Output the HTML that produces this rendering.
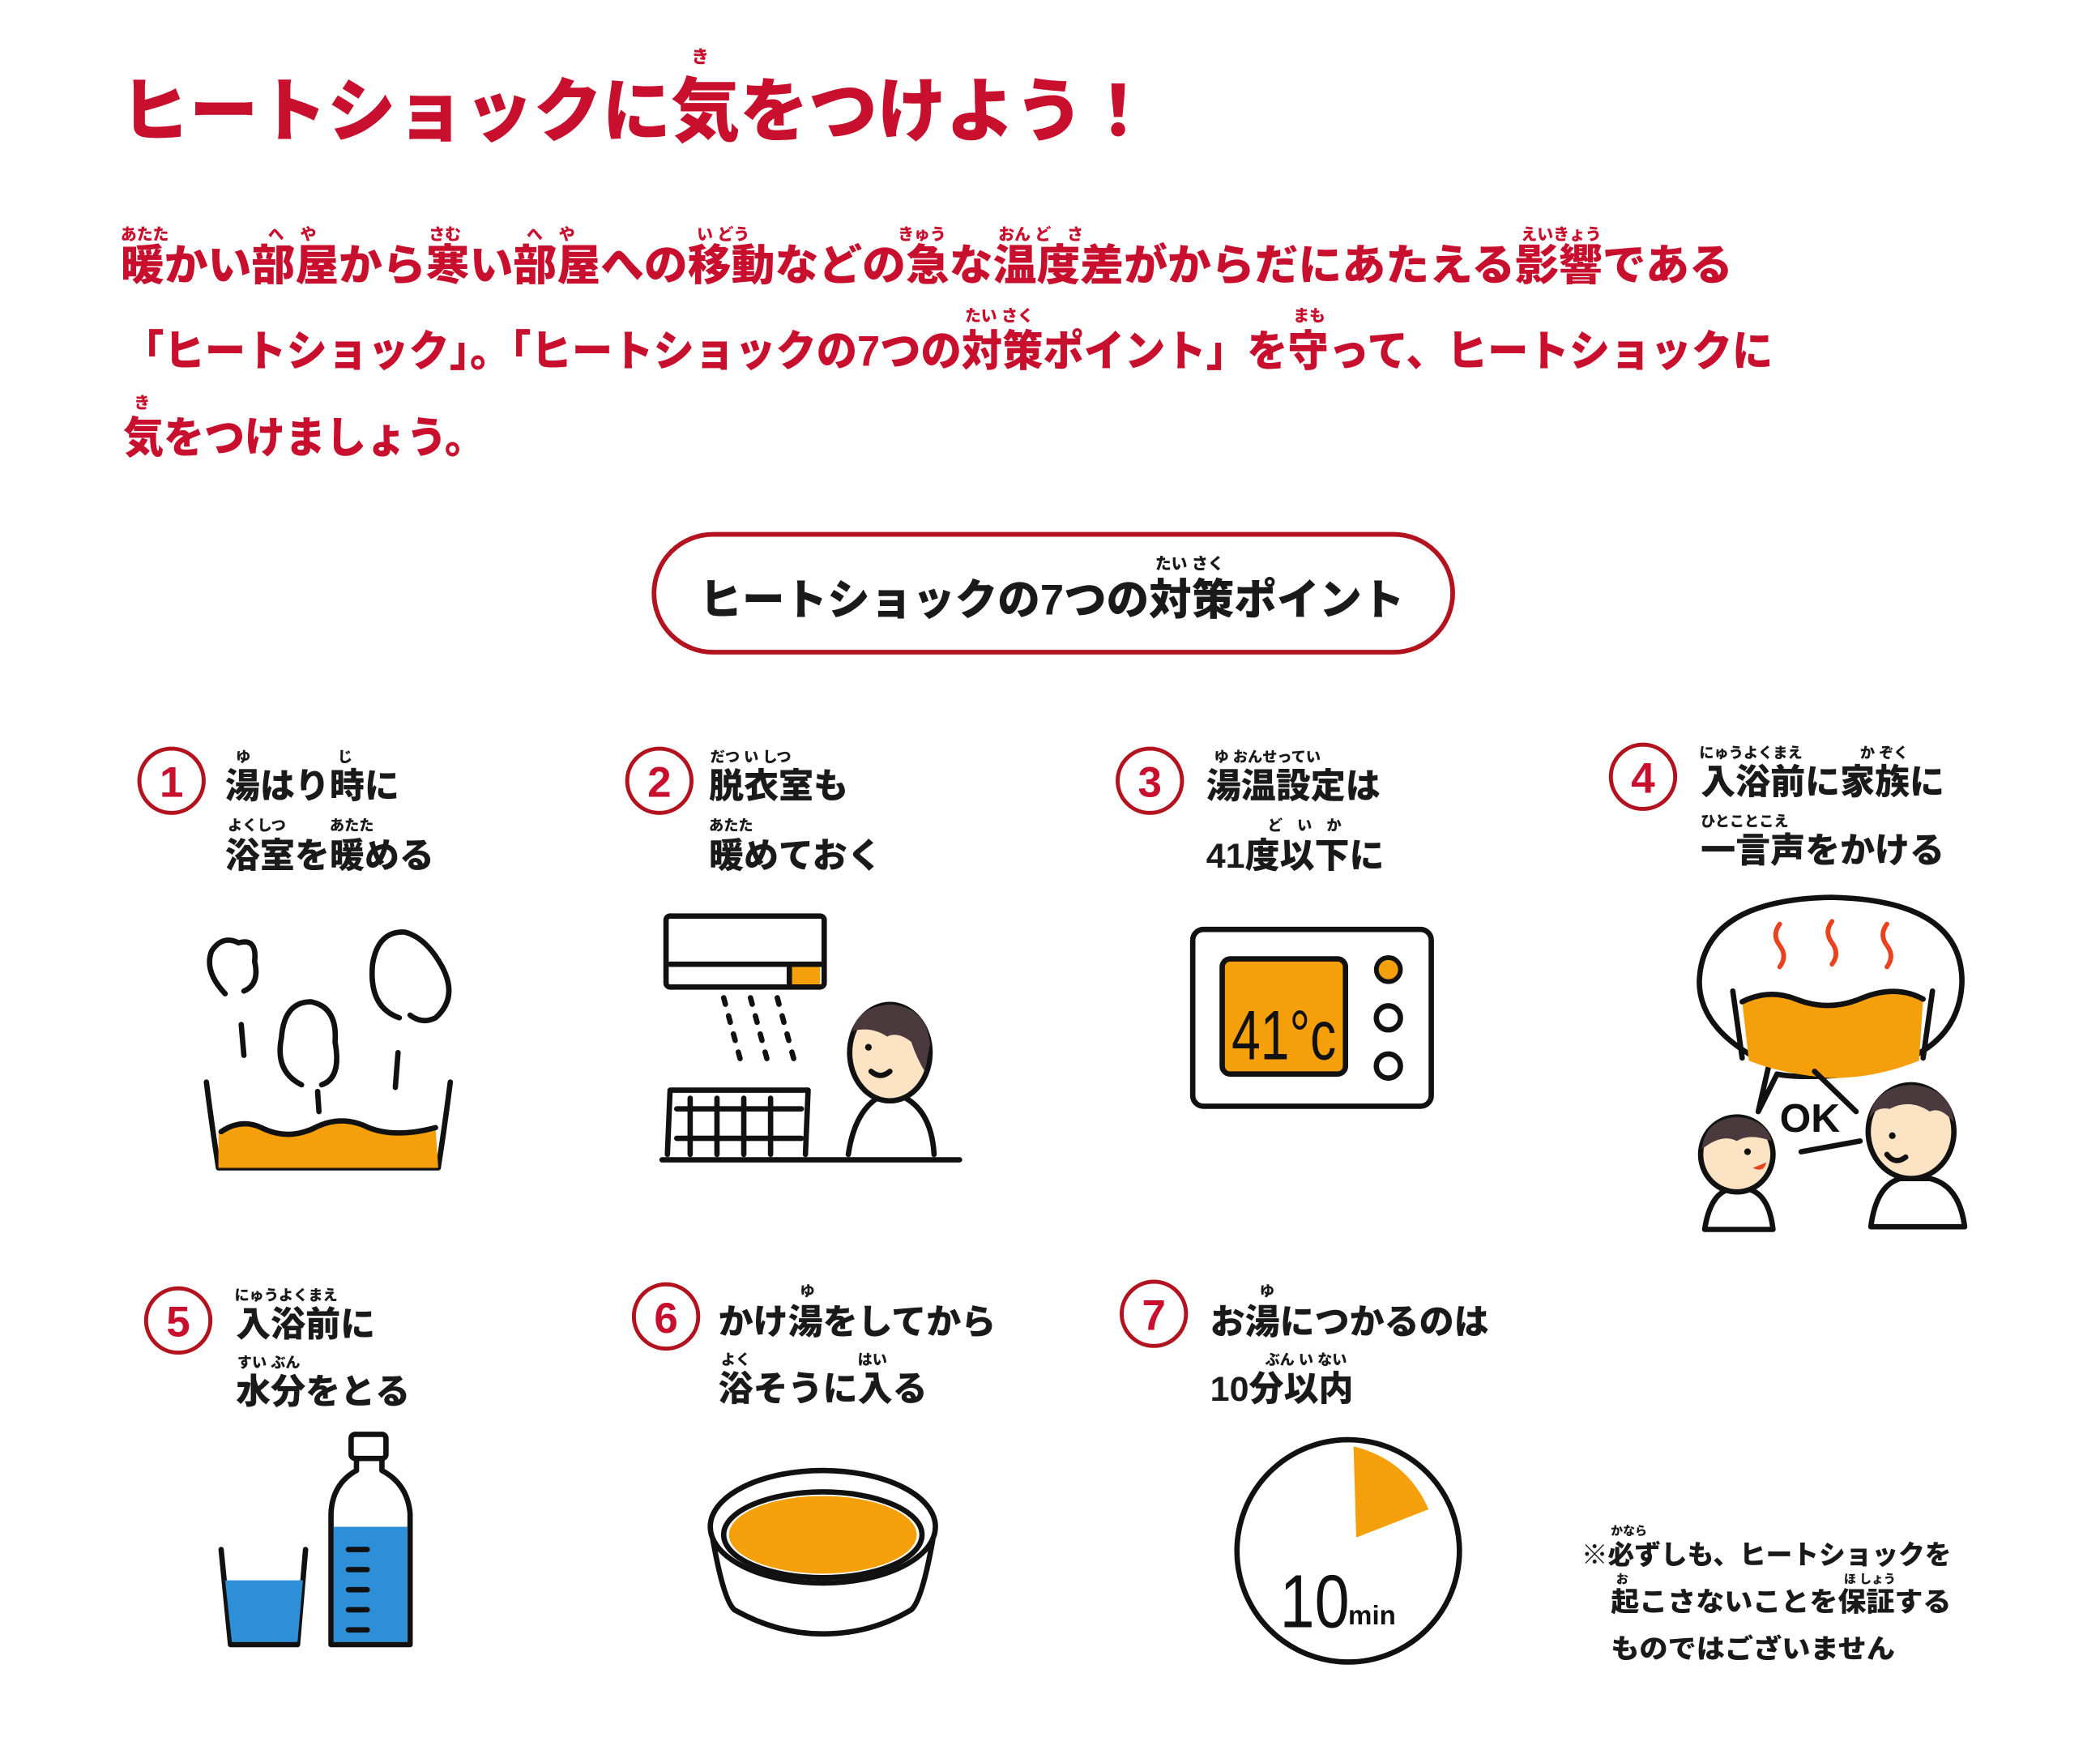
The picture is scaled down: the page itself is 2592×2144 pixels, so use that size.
<!DOCTYPE html>
<html><head><meta charset="utf-8"><style>
html,body{margin:0;padding:0;background:#fff;}
svg{display:block;}
text{font-family:"Liberation Sans","Noto Sans CJK JP",sans-serif;font-weight:900;}
.r{fill:#c8102e;}
.k{fill:#1a1a1a;}
.ln{fill:none;stroke:#111;stroke-width:4;stroke-linecap:round;stroke-linejoin:round;}
</style></head><body>
<svg width="2592" height="2144" viewBox="0 0 1567 1297" preserveAspectRatio="none" xmlns="http://www.w3.org/2000/svg">
<rect width="1567" height="1297" fill="#fff"/>
<text class="r" x="516" y="47" font-size="13">き</text>
<text class="r" x="90" y="101" font-size="52" textLength="770" lengthAdjust="spacingAndGlyphs">ヒートショックに気をつけよう！</text>
<g class="r" font-size="12">
<text x="90" y="179">あたた</text><text x="200" y="179">へ　や</text><text x="320" y="179">さむ</text><text x="393" y="179">へ　や</text>
<text x="520" y="179">い どう</text><text x="670" y="179">きゅう</text><text x="745" y="179">おん ど　さ</text><text x="1135" y="179">えいきょう</text>
<text x="720" y="240">たい さく</text><text x="965" y="240">まも</text><text x="100" y="305">き</text>
</g>
<text class="r" x="90" y="209" font-size="32" textLength="1203" lengthAdjust="spacingAndGlyphs">暖かい部屋から寒い部屋への移動などの急な温度差がからだにあたえる影響である</text>
<text class="r" x="92" y="273" font-size="32" textLength="1231" lengthAdjust="spacingAndGlyphs">「ヒートショック」。「ヒートショックの7つの対策ポイント」を守って、ヒートショックに</text>
<text class="r" x="92" y="338" font-size="32" textLength="270" lengthAdjust="spacingAndGlyphs">気をつけましょう。</text>
<rect x="488" y="399" width="596" height="88" rx="44" fill="#fff" stroke="#b3121f" stroke-width="3.5"/>
<text class="k" x="862" y="425" font-size="12">たい さく</text>
<text class="k" x="522" y="459" font-size="32" textLength="526" lengthAdjust="spacingAndGlyphs">ヒートショックの7つの対策ポイント</text>

<g fill="none" stroke="#b3121f" stroke-width="3">
<circle cx="128" cy="583" r="24"/><circle cx="492" cy="583" r="24"/><circle cx="858" cy="583" r="24"/><circle cx="1226" cy="580" r="24"/>
<circle cx="133" cy="986" r="24"/><circle cx="497" cy="983" r="24"/><circle cx="861" cy="981" r="24"/>
</g>
<g class="r" font-size="32" text-anchor="middle" style="font-weight:400">
<text x="128" y="595">1</text><text x="492" y="595">2</text><text x="858" y="595">3</text><text x="1226" y="592">4</text>
<text x="133" y="998">5</text><text x="497" y="995">6</text><text x="861" y="993">7</text>
</g>
<g class="k" font-size="26">
<text x="168" y="596">湯はり時に</text><text x="168" y="648">浴室を暖める</text>
<text x="529" y="596">脱衣室も</text><text x="529" y="648">暖めておく</text>
<text x="900" y="596">湯温設定は</text><text x="900" y="648">41度以下に</text>
<text x="1269" y="593">入浴前に家族に</text><text x="1269" y="644">一言声をかける</text>
<text x="176" y="998">入浴前に</text><text x="176" y="1048">水分をとる</text>
<text x="536" y="996">かけ湯をしてから</text><text x="536" y="1046">浴そうに入る</text>
<text x="903" y="996">お湯につかるのは</text><text x="903" y="1046">10分以内</text>
</g>
<g class="k" font-size="11">
<text x="176" y="569">ゆ</text><text x="252" y="569">じ</text><text x="170" y="620">よくしつ</text><text x="246" y="620">あたた</text>
<text x="530" y="569">だつ い しつ</text><text x="529" y="620">あたた</text>
<text x="906" y="569">ゆ おんせってい</text><text x="946" y="620">ど　い　か</text>
<text x="1268" y="566">にゅうよくまえ</text><text x="1388" y="566">か ぞく</text><text x="1269" y="617">ひとことこえ</text>
<text x="175" y="971">にゅうよくまえ</text><text x="177" y="1021">すい ぶん</text>
<text x="597" y="968">ゆ</text><text x="538" y="1019">よく</text><text x="640" y="1019">はい</text>
<text x="940" y="968">ゆ</text><text x="944" y="1019">ぶん い ない</text>
</g>

<path d="M154 808 Q158 840 163 872 L327 872 Q332 840 336 808" class="ln"/>
<path d="M163 845 Q180 835 195 842 Q215 852 235 842 Q255 832 275 842 Q295 852 325 842 L327 872 L163 872 Z" fill="#f5a00a"/>
<path d="M165 845 Q180 835 195 842 Q215 852 235 842 Q255 832 275 842 Q295 850 325 842" class="ln"/>
<path d="M168 742 Q152 725 158 710 Q166 698 178 704 Q192 700 190 718 Q194 735 182 740" class="ln"/>
<path d="M225 810 Q205 800 210 775 Q212 748 232 748 Q252 752 250 778 Q255 805 240 810" class="ln"/>
<path d="M298 760 Q275 752 278 720 Q282 695 302 696 Q318 700 330 722 Q342 745 325 760 Q315 765 306 758" class="ln"/>
<path d="M180 765 L182 788 M237 815 L238 830 M297 786 L295 812" class="ln"/>

<rect x="497" y="684" width="118" height="53" rx="3" class="ln" fill="#fff"/>
<line x1="500" y1="720" x2="613" y2="720" class="ln"/>
<rect x="591" y="722" width="21" height="13" fill="#f5a00a"/>
<line x1="589" y1="720" x2="589" y2="735" class="ln"/>
<g class="ln" stroke-dasharray="5 9" stroke-width="3.5">
<line x1="540" y1="745" x2="554" y2="797"/><line x1="560" y1="745" x2="574" y2="797"/><line x1="580" y1="745" x2="594" y2="797"/>
</g>
<path d="M498 862 L500 814 L603 814 L601 862" class="ln"/>
<path d="M505 828 L598 828 M505 850 L598 850 M515 820 L515 862 M535 820 L535 862 M555 820 L555 862 M575 820 L575 862" class="ln"/>
<line x1="494" y1="866" x2="716" y2="866" class="ln"/>
<path d="M633 862 Q638 828 658 818 L672 818 Q695 828 697 862" class="ln" fill="#fff"/>
<ellipse cx="664" cy="786" rx="30" ry="36" fill="#fbe3c3" stroke="#111" stroke-width="4"/>
<path d="M636 770 Q640 752 664 750 Q692 752 694 780 L690 800 Q684 790 680 778 Q670 770 662 774 Q650 766 636 770 Z" fill="#4a3a3e"/>
<circle cx="648" cy="782" r="2.5" fill="#111"/><path d="M650 800 Q657 806 664 800" class="ln" stroke-width="2.5"/>

<rect x="890" y="694" width="178" height="132" rx="8" class="ln" fill="#fff"/>
<rect x="912" y="716" width="92" height="86" rx="6" fill="#f5a00a" stroke="#111" stroke-width="4"/>
<text x="958" y="791" text-anchor="middle" font-size="52" fill="#111" style="font-weight:400" textLength="78" lengthAdjust="spacingAndGlyphs">41°c</text>
<circle cx="1036" cy="724" r="9" fill="#f5a00a" stroke="#111" stroke-width="3.5"/>
<circle cx="1036" cy="760" r="9" class="ln"/><circle cx="1036" cy="796" r="9" class="ln"/>

<path d="M1320 795 Q1268 770 1268 733 Q1270 672 1366 670 Q1464 672 1464 733 Q1462 795 1370 803 Q1340 805 1326 802 L1312 830 Z" class="ln" fill="#fff"/>
<path d="M1300 748 Q1320 738 1340 746 Q1365 756 1390 745 Q1415 735 1435 746 L1432 792 Q1400 805 1366 805 Q1330 802 1305 792 Z" fill="#f5a00a"/>
<path d="M1300 748 Q1320 738 1340 746 Q1365 756 1390 745 Q1415 735 1435 746 M1293 740 L1300 790 M1442 740 L1435 790" class="ln"/>
<g fill="none" stroke="#e8421f" stroke-width="3.5" stroke-linecap="round">
<path d="M1328 690 Q1322 698 1328 706 Q1334 714 1328 722"/><path d="M1367 688 Q1361 696 1367 704 Q1373 712 1367 720"/><path d="M1408 690 Q1402 698 1408 706 Q1414 714 1408 722"/>
</g>
<line x1="1354" y1="800" x2="1385" y2="830" class="ln"/><line x1="1344" y1="860" x2="1388" y2="852" class="ln"/>
<text x="1328" y="845" font-size="30" fill="#111" style="font-weight:700">OK</text>
<path d="M1272 918 Q1276 892 1290 888 L1305 888 Q1320 892 1323 918 Z" class="ln" fill="#fff"/>
<ellipse cx="1296" cy="862" rx="27" ry="28" fill="#fbe3c3" stroke="#111" stroke-width="4"/>
<path d="M1270 858 Q1272 836 1296 834 Q1318 836 1322 852 Q1305 846 1296 852 Q1285 846 1270 858 Z" fill="#4a3a3e"/>
<circle cx="1304" cy="860" r="2.5" fill="#111"/><path d="M1308 872 Q1316 876 1318 868" fill="#e8421f"/>
<path d="M1396 916 Q1400 885 1418 880 L1440 880 Q1462 885 1466 916 Z" class="ln" fill="#fff"/>
<ellipse cx="1426" cy="845" rx="32" ry="35" fill="#fbe3c3" stroke="#111" stroke-width="4"/>
<path d="M1395 835 Q1398 812 1426 810 Q1456 812 1458 838 Q1448 826 1440 830 Q1425 820 1410 828 Q1400 826 1395 835 Z" fill="#4a3a3e"/>
<circle cx="1412" cy="848" r="2.5" fill="#111"/><path d="M1408 862 Q1414 870 1422 864" class="ln" stroke-width="2.5"/>

<path d="M165 1157 L172 1228 L222 1228 L228 1157" class="ln"/>
<path d="M168 1180 L226 1180 L222 1226 L173 1226 Z" fill="#2d8fd8"/>
<rect x="262" y="1071" width="26" height="18" rx="3" class="ln" fill="#fff"/>
<path d="M266 1089 L266 1098 Q248 1108 247 1130 L247 1228 L306 1228 L306 1130 Q304 1108 285 1098 L285 1089" class="ln" fill="#fff"/>
<path d="M249 1140 L304 1140 L304 1226 L249 1226 Z" fill="#2d8fd8"/>
<g stroke="#111" stroke-width="4" stroke-linecap="round"><line x1="260" y1="1157" x2="274" y2="1157"/><line x1="260" y1="1172" x2="274" y2="1172"/><line x1="260" y1="1187" x2="274" y2="1187"/><line x1="260" y1="1202" x2="274" y2="1202"/><line x1="260" y1="1217" x2="274" y2="1217"/></g>

<path d="M532 1150 Q540 1195 548 1202 Q580 1220 614 1220 Q650 1220 680 1202 Q688 1195 696 1150" class="ln" fill="#fff"/>
<ellipse cx="614" cy="1140" rx="84" ry="42" class="ln" fill="#fff"/>
<ellipse cx="614" cy="1146" rx="74" ry="32" class="ln"/>
<ellipse cx="614" cy="1146" rx="70" ry="29" fill="#f5a00a"/>

<circle cx="1006" cy="1158" r="83" class="ln" fill="#fff"/>
<path d="M1010 1080 Q1050 1090 1066 1127 L1012 1148 Z" fill="#f5a00a"/>
<text x="955" y="1215" font-size="56" fill="#111" style="font-weight:400" textLength="52" lengthAdjust="spacingAndGlyphs">10</text>
<text x="1006" y="1213" font-size="20" fill="#111" style="font-weight:700">min</text>

<g class="k" font-size="20">
<text x="1180" y="1168" textLength="276" lengthAdjust="spacingAndGlyphs">※必ずしも、ヒートショックを</text>
<text x="1202" y="1203" textLength="254" lengthAdjust="spacingAndGlyphs">起こさないことを保証する</text>
<text x="1202" y="1238" textLength="212" lengthAdjust="spacingAndGlyphs">ものではございません</text>
</g>
<g class="k" font-size="9"><text x="1202" y="1146">かなら</text><text x="1206" y="1182">お</text><text x="1376" y="1182">ほ しょう</text></g>
</svg>
</body></html>
